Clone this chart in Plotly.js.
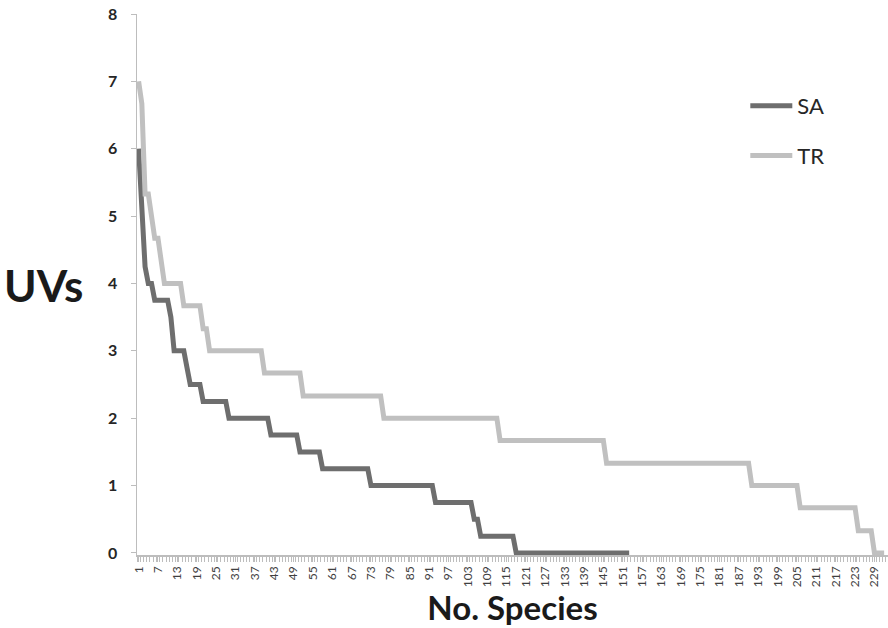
<!DOCTYPE html>
<html>
<head>
<meta charset="utf-8">
<script src="https://cdn.plot.ly/plotly-3.0.1.min.js"></script>
<style>
  html, body { margin: 0; padding: 0; background: #ffffff; }
  #chart { width: 888px; height: 628px; }
</style>
</head>
<body>
<div id="chart"></div>
<script>
// Use values (UVs) per species rank
const saValues = [
  6, 5.25, 4.25, 4, 4, 3.75, 3.75, 3.75, 3.75, 3.75,
  3.5, 3, 3, 3, 3, 2.75, 2.5, 2.5, 2.5, 2.5,
  2.25, 2.25, 2.25, 2.25, 2.25, 2.25, 2.25, 2.25, 2, 2,
  2, 2, 2, 2, 2, 2, 2, 2, 2, 2,
  2, 1.75, 1.75, 1.75, 1.75, 1.75, 1.75, 1.75, 1.75, 1.75,
  1.5, 1.5, 1.5, 1.5, 1.5, 1.5, 1.5, 1.25, 1.25, 1.25,
  1.25, 1.25, 1.25, 1.25, 1.25, 1.25, 1.25, 1.25, 1.25, 1.25,
  1.25, 1.25, 1, 1, 1, 1, 1, 1, 1, 1,
  1, 1, 1, 1, 1, 1, 1, 1, 1, 1,
  1, 1, 0.75, 0.75, 0.75, 0.75, 0.75, 0.75, 0.75, 0.75,
  0.75, 0.75, 0.75, 0.75, 0.5, 0.5, 0.25, 0.25, 0.25, 0.25,
  0.25, 0.25, 0.25, 0.25, 0.25, 0.25, 0.25, 0, 0, 0,
  0, 0, 0, 0, 0, 0, 0, 0, 0, 0,
  0, 0, 0, 0, 0, 0, 0, 0, 0, 0,
  0, 0, 0, 0, 0, 0, 0, 0, 0, 0,
  0, 0, 0
];

const trValues = [
  7, 6.67, 5.33, 5.33, 5, 4.67, 4.67, 4.33, 4, 4,
  4, 4, 4, 4, 3.67, 3.67, 3.67, 3.67, 3.67, 3.67,
  3.33, 3.33, 3, 3, 3, 3, 3, 3, 3, 3,
  3, 3, 3, 3, 3, 3, 3, 3, 3, 2.67,
  2.67, 2.67, 2.67, 2.67, 2.67, 2.67, 2.67, 2.67, 2.67, 2.67,
  2.67, 2.33, 2.33, 2.33, 2.33, 2.33, 2.33, 2.33, 2.33, 2.33,
  2.33, 2.33, 2.33, 2.33, 2.33, 2.33, 2.33, 2.33, 2.33, 2.33,
  2.33, 2.33, 2.33, 2.33, 2.33, 2.33, 2, 2, 2, 2,
  2, 2, 2, 2, 2, 2, 2, 2, 2, 2,
  2, 2, 2, 2, 2, 2, 2, 2, 2, 2,
  2, 2, 2, 2, 2, 2, 2, 2, 2, 2,
  2, 2, 1.67, 1.67, 1.67, 1.67, 1.67, 1.67, 1.67, 1.67,
  1.67, 1.67, 1.67, 1.67, 1.67, 1.67, 1.67, 1.67, 1.67, 1.67,
  1.67, 1.67, 1.67, 1.67, 1.67, 1.67, 1.67, 1.67, 1.67, 1.67,
  1.67, 1.67, 1.67, 1.67, 1.67, 1.33, 1.33, 1.33, 1.33, 1.33,
  1.33, 1.33, 1.33, 1.33, 1.33, 1.33, 1.33, 1.33, 1.33, 1.33,
  1.33, 1.33, 1.33, 1.33, 1.33, 1.33, 1.33, 1.33, 1.33, 1.33,
  1.33, 1.33, 1.33, 1.33, 1.33, 1.33, 1.33, 1.33, 1.33, 1.33,
  1.33, 1.33, 1.33, 1.33, 1.33, 1.33, 1.33, 1.33, 1.33, 1.33,
  1, 1, 1, 1, 1, 1, 1, 1, 1, 1,
  1, 1, 1, 1, 1, 0.67, 0.67, 0.67, 0.67, 0.67,
  0.67, 0.67, 0.67, 0.67, 0.67, 0.67, 0.67, 0.67, 0.67, 0.67,
  0.67, 0.67, 0.67, 0.33, 0.33, 0.33, 0.33, 0.33, 0, 0,
  0, 0
];

const xTickVals = [1, 7, 13, 19, 25, 31, 37, 43, 49, 55, 61, 67, 73, 79, 85, 91, 97, 103, 109, 115,
  121, 127, 133, 139, 145, 151, 157, 163, 169, 175, 181, 187, 193, 199, 205, 211, 217, 223, 229];
const xTickText = ["1", "7", "13", "19", "25", "31", "37", "43", "49", "55", "61", "67", "73", "79", "85", "91", "97", "103", "109", "115",
  "121", "127", "133", "139", "145", "151", "157", "163", "169", "175", "181", "187", "193", "199", "205", "211", "217", "223", "229"];
const yTickVals = [0, 1, 2, 3, 4, 5, 6, 7, 8];
const seriesNames = ["SA", "TR"];

const saX = saValues.map((v, i) => i + 1);
const trX = trValues.map((v, i) => i + 1);

const traces = [
  {
    x: saX, y: saValues, type: 'scatter', mode: 'lines', name: seriesNames[0],
    line: { color: '#6e6e6e', width: 5 }, legend: 'legend'
  },
  {
    x: trX, y: trValues, type: 'scatter', mode: 'lines', name: seriesNames[1],
    line: { color: '#c0c0c0', width: 5 }, legend: 'legend2'
  }
];

const font = 'Lato, "Open Sans", sans-serif';

const layout = {
  width: 888, height: 628,
  margin: { l: 137, r: 0, t: 14, b: 73 },
  paper_bgcolor: '#ffffff', plot_bgcolor: '#ffffff',
  font: { family: font, color: '#262626' },
  showlegend: true,
  xaxis: {
    range: [0.5, 233.2],
    tickmode: 'array', tickvals: xTickVals, ticktext: xTickText,
    tickangle: -90,
    tickfont: { family: font, size: 12, color: '#404040' },
    ticks: 'outside', ticklen: 5, tickcolor: '#bdbdbd', tickwidth: 1,
    minor: { tick0: 0.5, dtick: 1, ticks: 'outside', ticklen: 5, tickcolor: '#bdbdbd', tickwidth: 1, showgrid: false },
    showline: true, linecolor: '#bdbdbd', linewidth: 1.5,
    showgrid: false, zeroline: false,
    title: { text: 'No. Species', font: { family: font, size: 33, color: '#1a1a1a', weight: 'bold' }, standoff: 4 }
  },
  yaxis: {
    range: [-0.03, 8],
    tickmode: 'array', tickvals: yTickVals,
    tickfont: { family: font, size: 16, color: '#262626', weight: 'bold' },
    ticks: 'outside', ticklen: 5, tickcolor: '#bdbdbd', tickwidth: 1,
    ticklabelstandoff: 10,
    showline: true, linecolor: '#bdbdbd', linewidth: 1.5,
    showgrid: false, zeroline: false
  },
  legend: {
    x: 0.81, y: 0.83, xanchor: 'left', yanchor: 'middle',
    font: { family: font, size: 22, color: '#262626' },
    bgcolor: 'rgba(0,0,0,0)', itemwidth: 42
  },
  legend2: {
    x: 0.81, y: 0.738, xanchor: 'left', yanchor: 'middle',
    font: { family: font, size: 22, color: '#262626' },
    bgcolor: 'rgba(0,0,0,0)', itemwidth: 42
  },
  annotations: [
    {
      text: 'UVs', xref: 'paper', yref: 'paper', x: -0.125, y: 0.5, xanchor: 'center', yanchor: 'middle',
      showarrow: false, font: { family: font, size: 44, color: '#1a1a1a', weight: 'bold' }
    }
  ]
};

Plotly.newPlot('chart', traces, layout, { displayModeBar: false, staticPlot: true });
</script>
</body>
</html>
